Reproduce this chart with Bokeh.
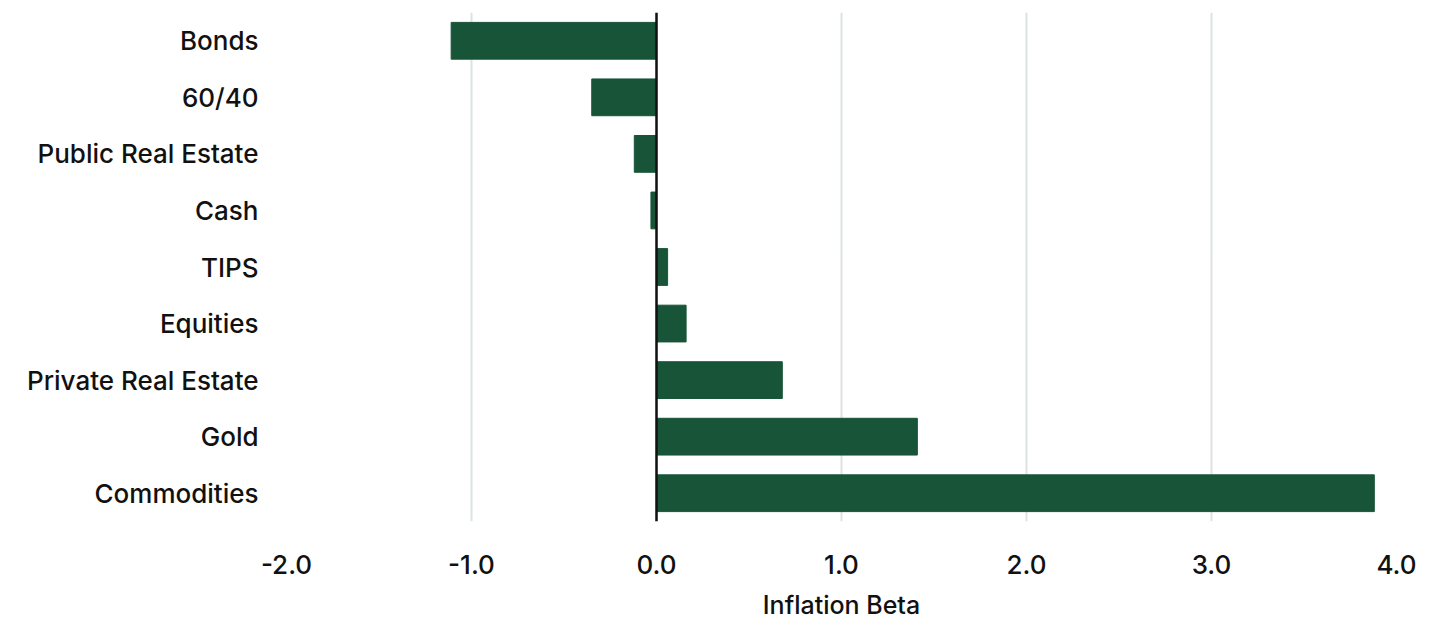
from bokeh.plotting import figure
from bokeh.models import Span, FixedTicker, Range1d
from bokeh.embed import file_html
from bokeh.resources import INLINE

categories = ["Bonds", "60/40", "Public Real Estate", "Cash", "TIPS",
              "Equities", "Private Real Estate", "Gold", "Commodities"]
beta = [-1.11, -0.35, -0.12, -0.03, 0.06, 0.16, 0.68, 1.41, 3.88]
x_ticks = [-2, -1, 0, 1, 2, 3, 4]
x_tick_labels = {-2: "-2.0", -1: "-1.0", 0: "0.0", 1: "1.0", 2: "2.0", 3: "3.0", 4: "4.0"}

FONT = "'Inter Medium', 'Inter SemiBold', Inter"
BAR = "#185438"
TXT = "#111111"

p = figure(y_range=list(reversed(categories)), x_range=Range1d(-2.0, 4.0),
           width=1437, height=621, frame_width=1110, frame_height=509,
           min_border_left=286, min_border_right=41, min_border_top=12, min_border_bottom=100,
           output_backend="svg", toolbar_location=None)

p.hbar(y=categories, right=beta, left=0, height=0.65, color=BAR)

p.add_layout(Span(location=0, dimension="height", line_color="#111111", line_width=2.5))

p.outline_line_color = None
p.ygrid.grid_line_color = None
p.xgrid.grid_line_color = "#dde3e2"
p.xgrid.grid_line_width = 2
p.xaxis.ticker = FixedTicker(ticks=x_ticks)
p.xaxis.major_label_overrides = x_tick_labels
p.xaxis.axis_line_color = None
p.xaxis.major_tick_line_color = None
p.xaxis.minor_tick_line_color = None
p.xaxis.major_label_standoff = 27
p.xaxis.major_label_text_font = FONT
p.xaxis.major_label_text_font_size = "26px"
p.xaxis.major_label_text_color = TXT
p.xaxis.axis_label = "Inflation Beta"
p.xaxis.axis_label_text_font = FONT
p.xaxis.axis_label_text_font_size = "25px"
p.xaxis.axis_label_text_font_style = "normal"
p.xaxis.axis_label_text_color = TXT
p.xaxis.axis_label_standoff = 13

p.yaxis.axis_line_color = None
p.yaxis.major_tick_line_color = None
p.yaxis.minor_tick_line_color = None
p.yaxis.major_label_standoff = 22
p.yaxis.major_label_text_font = FONT
p.yaxis.major_label_text_font_size = "26px"
p.yaxis.major_label_text_color = TXT

open("out.html", "w").write(file_html(p, INLINE))
